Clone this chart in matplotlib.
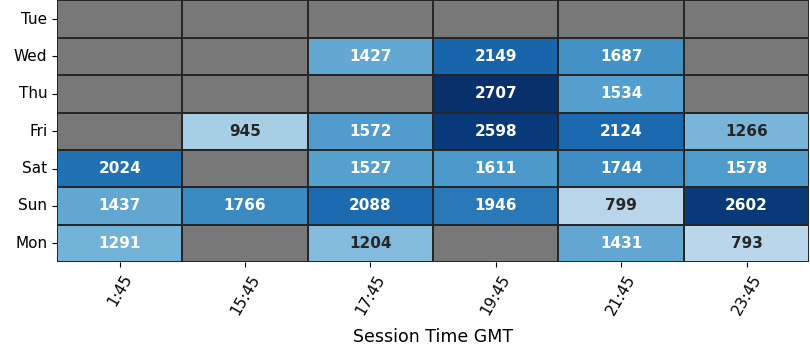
import matplotlib
matplotlib.use('Agg')
import matplotlib.pyplot as plt
import numpy as np
import pandas as pd
import seaborn as sns

days = ['Tue', 'Wed', 'Thu', 'Fri', 'Sat', 'Sun', 'Mon']
times = ['1:45', '15:45', '17:45', '19:45', '21:45', '23:45']
nan = np.nan

tue = [nan, nan, nan, nan, nan, nan]
wed = [nan, nan, 1427, 2149, 1687, nan]
thu = [nan, nan, nan, 2707, 1534, nan]
fri = [nan, 945, 1572, 2598, 2124, 1266]
sat = [2024, nan, 1527, 1611, 1744, 1578]
sun = [1437, 1766, 2088, 1946, 799, 2602]
mon = [1291, nan, 1204, nan, 1431, 793]

df = pd.DataFrame([tue, wed, thu, fri, sat, sun, mon], index=days, columns=times)

vmin, vmax = 0, np.nanmax(df.values)

fig, ax = plt.subplots(figsize=(8.1, 3.6), dpi=100)
ax.set_facecolor('#787878')
sns.heatmap(df, ax=ax, cmap='Blues', vmin=vmin, vmax=vmax, cbar=False,
            linewidths=1.2, linecolor='#262626')

# annotations: white on darker cells, dark on lighter ones
for i in range(df.shape[0]):
    for j in range(df.shape[1]):
        v = df.iloc[i, j]
        if np.isnan(v):
            continue
        frac = (v - vmin) / (vmax - vmin)
        col = 'white' if frac > 0.472 else '#262626'
        ax.text(j + 0.5, i + 0.5, f'{v:.0f}', ha='center', va='center',
                fontsize=11, fontweight='bold', color=col)

ax.set_xlabel('Session Time GMT', fontsize=12.5, labelpad=8)
ax.set_ylabel('')
plt.setp(ax.get_xticklabels(), rotation=60, fontsize=11)
plt.setp(ax.get_yticklabels(), rotation=0, fontsize=11)
fig.subplots_adjust(left=0.0704, right=0.999, top=0.999, bottom=0.272)
fig.savefig('out.png', dpi=100)
